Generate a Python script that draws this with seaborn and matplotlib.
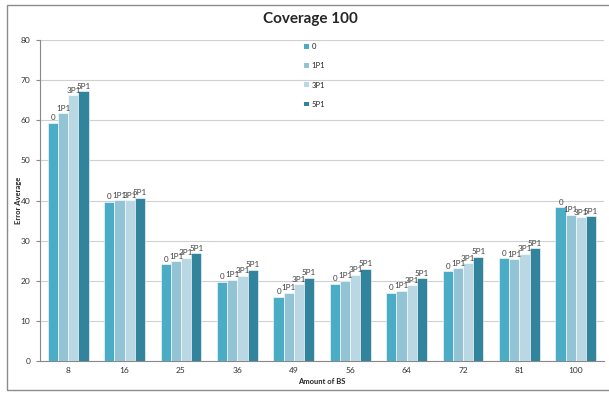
import matplotlib
matplotlib.use("Agg")
import matplotlib.pyplot as plt
import seaborn as sns
import pandas as pd
from matplotlib.patches import Rectangle

categories = ["8", "16", "25", "36", "49", "56", "64", "72", "81", "100"]
series_names = ["0", "1P1", "3P1", "5P1"]
s0 = [59.4, 39.7, 24.2, 19.8, 16.0, 19.3, 17.0, 22.4, 25.6, 38.3]
s1p1 = [61.8, 40.1, 24.9, 20.3, 17.0, 20.0, 17.5, 23.1, 25.4, 36.5]
s3p1 = [66.3, 40.1, 25.7, 21.3, 19.1, 21.5, 18.9, 24.3, 26.7, 35.8]
s5p1 = [67.3, 40.7, 26.8, 22.8, 20.8, 23.0, 20.6, 26.0, 28.1, 36.1]
colors = ["#4BACC6", "#93C4D6", "#B9D8E4", "#31849B"]

rows = []
for name, vals in zip(series_names, [s0, s1p1, s3p1, s5p1]):
    for c, v in zip(categories, vals):
        rows.append({"BS": c, "series": name, "value": v})
df = pd.DataFrame(rows)

sns.set_style("white")
plt.rcParams["font.family"] = ["Lato", "DejaVu Sans"]

fig = plt.figure(figsize=(6.09, 3.97), dpi=100)
ax = fig.add_axes([40 / 609, 36 / 397, 564 / 609, 321 / 397])

sns.barplot(data=df, x="BS", y="value", hue="series", order=categories,
            hue_order=series_names, palette=colors, width=0.72, ax=ax,
            edgecolor="white", linewidth=0.4, saturation=1, zorder=3)

for cont, name in zip(ax.containers, series_names):
    ax.bar_label(cont, labels=[name] * len(cont), fontsize=5.8, padding=1,
                 color="#404040")

ax.set_ylim(0, 80)
ax.set_yticks(range(0, 81, 10))
ax.set_xlim(-0.5, len(categories) - 0.5)
ax.yaxis.grid(True, color="#D0D0D0", linewidth=0.8, zorder=0)
ax.set_axisbelow(True)
for s in ["top", "right"]:
    ax.spines[s].set_visible(False)
for s in ["left", "bottom"]:
    ax.spines[s].set_color("#888888")
    ax.spines[s].set_linewidth(0.8)

ax.tick_params(axis="both", labelsize=6, colors="#333333", length=0, pad=4)
ax.set_xticks([i - 0.5 for i in range(len(categories) + 1)], minor=True)
ax.tick_params(axis="x", which="minor", length=3, color="#888888")
ax.tick_params(axis="y", which="major", length=3, color="#888888", left=True)

ax.set_xlabel("Amount of BS", fontsize=5.5, fontweight="bold")
ax.set_ylabel("Error Average", fontsize=5.5, fontweight="bold")
ax.xaxis.set_label_coords(0.5, -17 / 321)
ax.yaxis.set_label_coords(-18 / 564, 0.5)

fig.text(310 / 609, 1 - 19 / 397, "Coverage 100", ha="center", va="center",
         fontsize=11, fontweight="bold")

leg = ax.legend(loc="upper left", bbox_to_anchor=(301 / 609, 1 - 40 / 397),
                bbox_transform=fig.transFigure, frameon=False, fontsize=5.5,
                handlelength=0.6, handleheight=0.6, handletextpad=0.4,
                labelspacing=1.6, borderaxespad=0)
for h in leg.legend_handles:
    h.set_edgecolor("none")

fig.patches.append(Rectangle((7 / 609, 7 / 397), 1.2, 385 / 397,
                             transform=fig.transFigure, fill=False,
                             edgecolor="#8C8C8C", linewidth=1.0))

fig.savefig("out.png", dpi=100)
